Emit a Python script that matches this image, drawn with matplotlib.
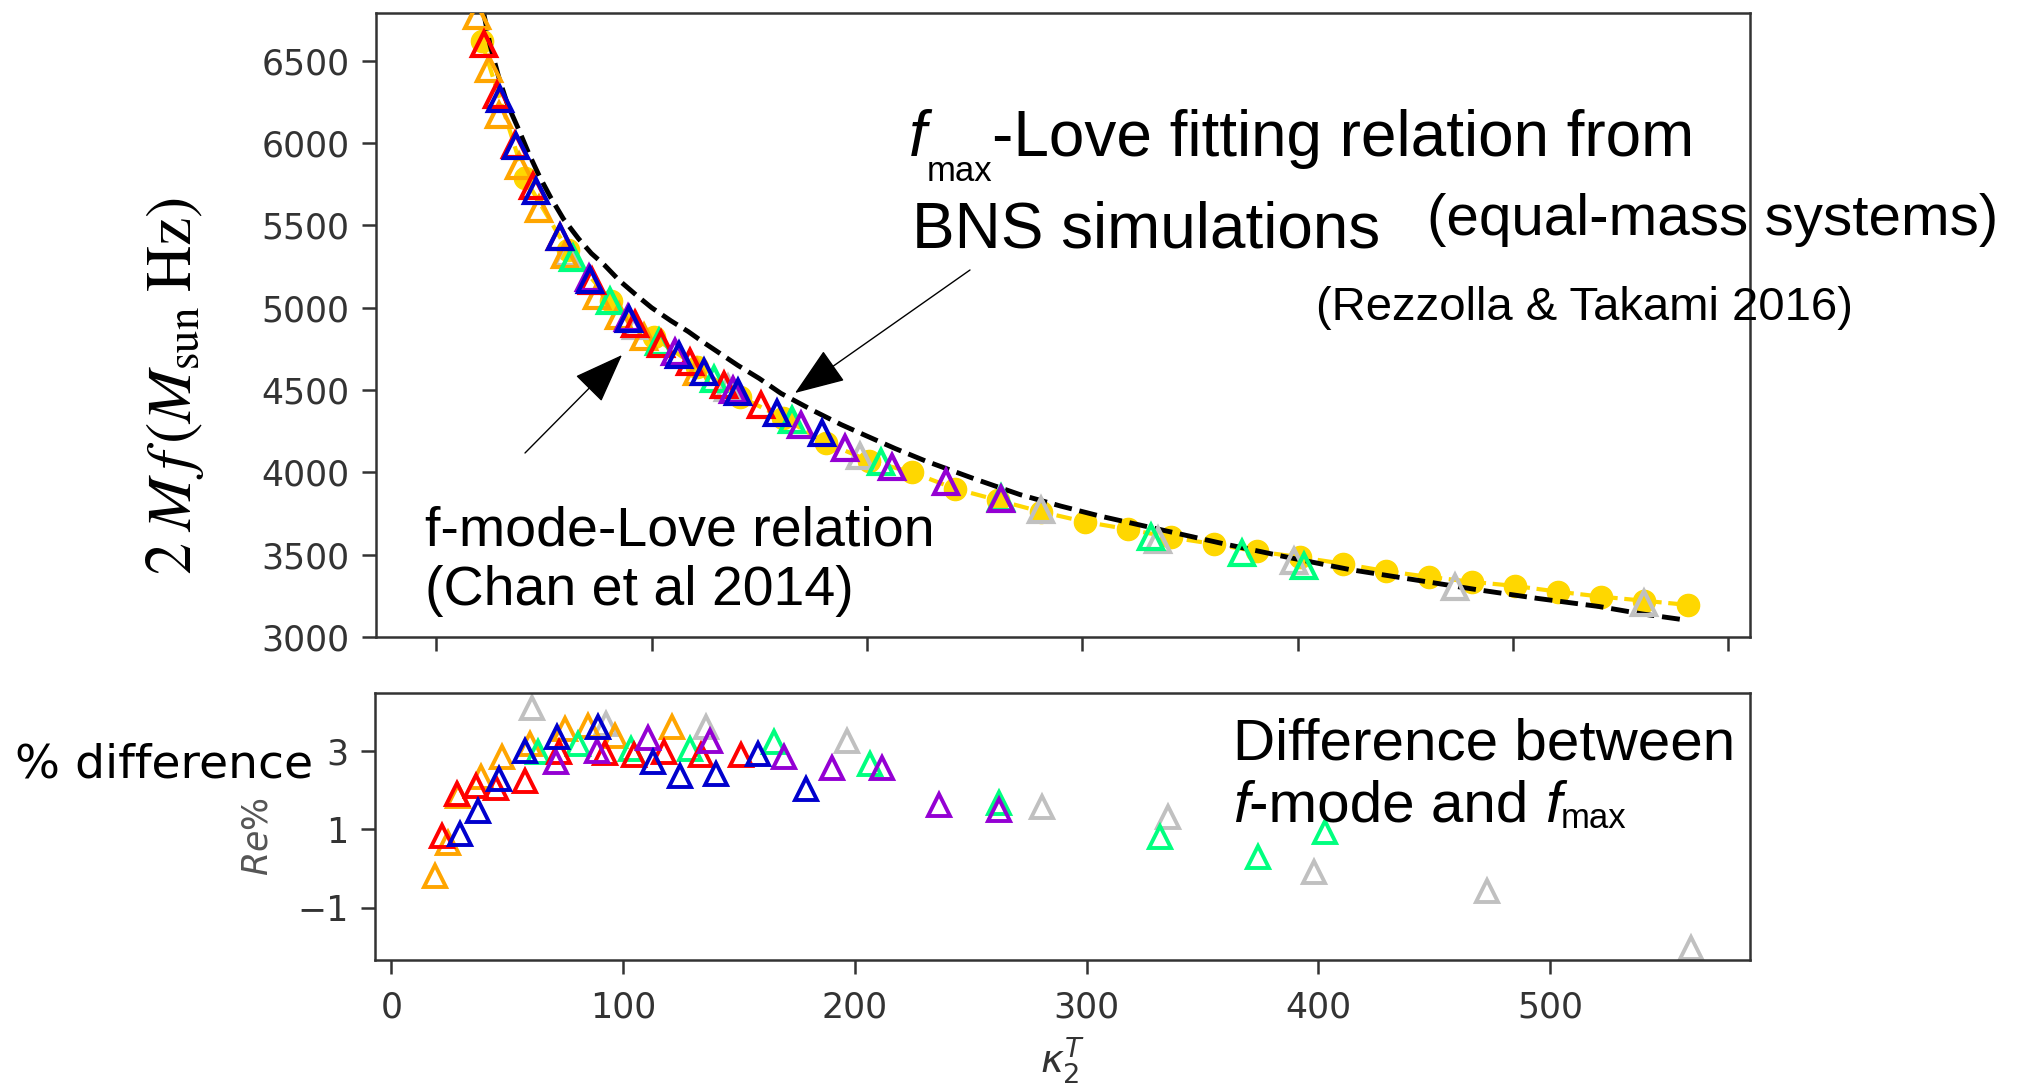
import numpy as np
import matplotlib
matplotlib.use('Agg')
import matplotlib.pyplot as plt
from matplotlib.patches import FancyArrowPatch

# tidal coupling constant kappa_2^T for each EOS family, with the peak
# frequency 2Mf (top) and the relative difference Re% (bottom)
K_ORANGE = [19.0, 24.4, 28.9, 38.5, 47.6, 59.9, 74.8, 84.7, 96.3, 121.0]
F_ORANGE = [6770, 6450, 6170, 5860, 5600, 5320, 5070, 4950, 4820, 4610]
R_ORANGE = [-0.19, 0.66, 1.85, 2.32, 2.85, 3.17, 3.55, 3.64, 3.38, 3.60]

K_RED = [22.0, 28.2, 36.5, 45.1, 57.5, 72.3, 92.2, 104.5, 117.7, 133.5,
         150.8]
F_RED = [6600, 6290, 5990, 5740, 5430, 5160, 4900, 4780, 4670, 4530, 4410]
R_RED = [0.83, 1.89, 2.11, 2.06, 2.23, 2.96, 2.93, 2.90, 2.96, 2.90, 2.90]

K_BLUE = [29.4, 37.2, 46.4, 57.5, 71.5, 89.3, 112.8, 124.4, 140.0, 158.2,
          178.9]
F_BLUE = [6270, 5980, 5710, 5430, 5170, 4930, 4710, 4610, 4490, 4360, 4240]
R_BLUE = [0.87, 1.47, 2.28, 3.00, 3.34, 3.60, 2.70, 2.36, 2.40, 2.91, 2.02]

K_PURPLE = [71.0, 88.9, 110.8, 137.6, 169.4, 190.0, 211.6, 236.5, 262.4]
F_PURPLE = [5180, 4940, 4730, 4500, 4290, 4150, 4035, 3940, 3840]
R_PURPLE = [2.70, 3.00, 3.32, 3.26, 2.83, 2.57, 2.56, 1.62, 1.49]

K_GREEN = [63.3, 80.6, 103.4, 129.0, 165.2, 206.6, 262.4, 331.8, 373.9,
           402.8]
F_GREEN = [5300, 5040, 4790, 4570, 4320, 4060, 3845, 3610, 3510, 3430]
R_GREEN = [2.96, 3.17, 3.04, 3.04, 3.21, 2.66, 1.66, 0.81, 0.30, 0.94]

K_GRAY = [60.8, 92.5, 135.6, 196.7, 280.9, 335.0, 398.1, 473.0, 561.0]
F_GRAY = [5330, 4890, 4510, 4100, 3770, 3590, 3460, 3305, 3205]
R_GRAY = [4.10, 3.68, 3.60, 3.26, 1.57, 1.32, -0.08, -0.57, -2.03]

# f-mode-Love relation evaluated on a grid
K_FMODE = [21, 41, 61, 81, 101, 121, 141, 161, 181, 201, 221, 241, 261,
           281, 301, 321, 341, 361, 381, 401, 421, 441, 461, 481, 501, 521,
           541, 561, 581]
F_FMODE = [6620, 5790, 5350, 5040, 4820, 4640, 4460, 4330, 4180, 4070,
           4000, 3900, 3830, 3760, 3700, 3655, 3605, 3565, 3520, 3485, 3445,
           3400, 3365, 3335, 3310, 3275, 3245, 3220, 3195]

# fmax-Love fit (Rezzolla & Takami 2016)
K_FIT = [22, 25, 29, 33, 38, 43, 48, 53, 59, 66, 72, 78, 85, 93, 100, 109,
         117, 124, 132, 140, 150, 160, 175, 188, 200, 213, 227, 250, 271,
         290, 308, 337, 366, 395, 424, 453, 482, 511, 540, 560, 579]
F_FIT = [6790, 6593, 6400, 6237, 6090, 5935, 5795, 5672, 5540, 5420, 5330,
         5260, 5165, 5075, 5000, 4920, 4855, 4790, 4720, 4650, 4570, 4480,
         4375, 4290, 4220, 4145, 4070, 3960, 3865, 3795, 3735, 3650, 3565,
         3485, 3410, 3350, 3290, 3235, 3185, 3140, 3105]

SERIES = [
    ('silver', K_GRAY, F_GRAY, R_GRAY),
    ('orange', K_ORANGE, F_ORANGE, R_ORANGE),
    ('springgreen', K_GREEN, F_GREEN, R_GREEN),
    ('red', K_RED, F_RED, R_RED),
    ('darkviolet', K_PURPLE, F_PURPLE, R_PURPLE),
    ('mediumblue', K_BLUE, F_BLUE, R_BLUE),
]

W, H = 2019, 1090
TXT = 'Liberation Sans'


def fx(x):
    return x / W


def fy(y):
    return 1 - y / H


def style_axis(ax):
    for sp in ax.spines.values():
        sp.set_color('#333333')
        sp.set_linewidth(1.8)
    ax.tick_params(length=10, width=1.8, pad=9, labelsize=25,
                   colors='#333333')


fig = plt.figure(figsize=(W / 100, H / 100), dpi=100)

# --- top panel
ax1 = fig.add_axes([fx(376), fy(637), fx(1750 - 376), (637 - 13) / H])
ax1.plot(K_FMODE, F_FMODE, ls='--', lw=3, color='gold', marker='o',
         ms=16, mec='gold', mfc='gold', zorder=2)
ax1.plot(K_FIT, F_FIT, ls='--', lw=3.5, color='black', zorder=2.5)
for col, kk, ff, rr in SERIES:
    ax1.plot(kk, ff, ls='none', marker='^', ms=17, mfc='none', mec=col,
             mew=3, zorder=3)
ax1.set_xlim(-28, 610)
ax1.set_ylim(3000, 6790)
ax1.set_xticks(np.arange(0, 601, 100))
ax1.set_xticklabels([])
ax1.set_yticks(np.arange(3000, 6501, 500))
style_axis(ax1)
ax1.set_ylabel(r'$2\;M\,f\,\left(M_{\rm sun}\;{\rm Hz}\right)$',
               fontsize=46, math_fontfamily='stix', color='black',
               va='center')
ax1.yaxis.set_label_coords((175 - 376) / 1374, (637 - 386) / 624)

# --- bottom panel
ax2 = fig.add_axes([fx(375), fy(960), fx(1750 - 375), (960 - 693) / H])
for col, kk, ff, rr in SERIES:
    ax2.plot(kk, rr, ls='none', marker='^', ms=16, mfc='none', mec=col,
             mew=2.8)
ax2.set_xlim(-7.1, 586.3)
ax2.set_ylim(-2.33, 4.47)
ax2.set_xticks(np.arange(0, 501, 100))
ax2.set_yticks([-1, 1, 3])
style_axis(ax2)
ax2.tick_params(axis='x', pad=12)
ax2.set_xlabel(r'$\kappa_2^T$', fontsize=28, color='#333333', labelpad=8)
ax2.set_ylabel(r'$Re\%$', fontsize=25, color='#555555', va='center')
ax2.yaxis.set_label_coords((257 - 375) / 1375, (960 - 837) / 267)

renderer = fig.canvas.get_renderer()


def put_run(x, y, parts):
    """Draw text pieces one after another starting at pixel (x, y)."""
    for s, size, style, dy in parts:
        t = fig.text(fx(x), fy(y + dy), s, fontsize=size, fontstyle=style,
                     family=TXT, ha='left', va='baseline')
        x += t.get_window_extent(renderer).width


put_run(909, 156, [('f', 46, 'italic', 0), ('max', 25, 'normal', 25),
                   ('-Love fitting relation from', 46, 'normal', 0)])
fig.text(fx(912), fy(248), 'BNS simulations', fontsize=46, family=TXT,
         va='baseline')
fig.text(fx(1427), fy(235), '(equal-mass systems)', fontsize=42,
         family=TXT, va='baseline')
fig.text(fx(1316), fy(320), '(Rezzolla & Takami 2016)', fontsize=34,
         family=TXT, va='baseline')
fig.text(fx(425), fy(545), 'f-mode-Love relation', fontsize=40,
         family=TXT, va='baseline')
fig.text(fx(425), fy(605), '(Chan et al 2014)', fontsize=40, family=TXT,
         va='baseline')
fig.text(fx(1233), fy(760), 'Difference between', fontsize=42, family=TXT,
         va='baseline')
put_run(1233, 822, [('f', 42, 'italic', 0), ('-mode and ', 42, 'normal', 0),
                    ('f', 42, 'italic', 0), ('max', 25, 'normal', 6)])
fig.text(fx(15), fy(778), '% difference', fontsize=34, family='DejaVu Sans',
         va='baseline')

# arrows pointing at the two curves
for tail, head in [((970, 270), (795, 393)), ((525, 453), (622, 355))]:
    arr = FancyArrowPatch((fx(tail[0]), fy(tail[1])),
                          (fx(head[0]), fy(head[1])),
                          transform=fig.transFigure,
                          arrowstyle='-|>,head_length=1.6,head_width=0.6',
                          mutation_scale=20, lw=1, color='black',
                          shrinkA=0, shrinkB=0)
    fig.add_artist(arr)

fig.savefig('out.png', dpi=100)
